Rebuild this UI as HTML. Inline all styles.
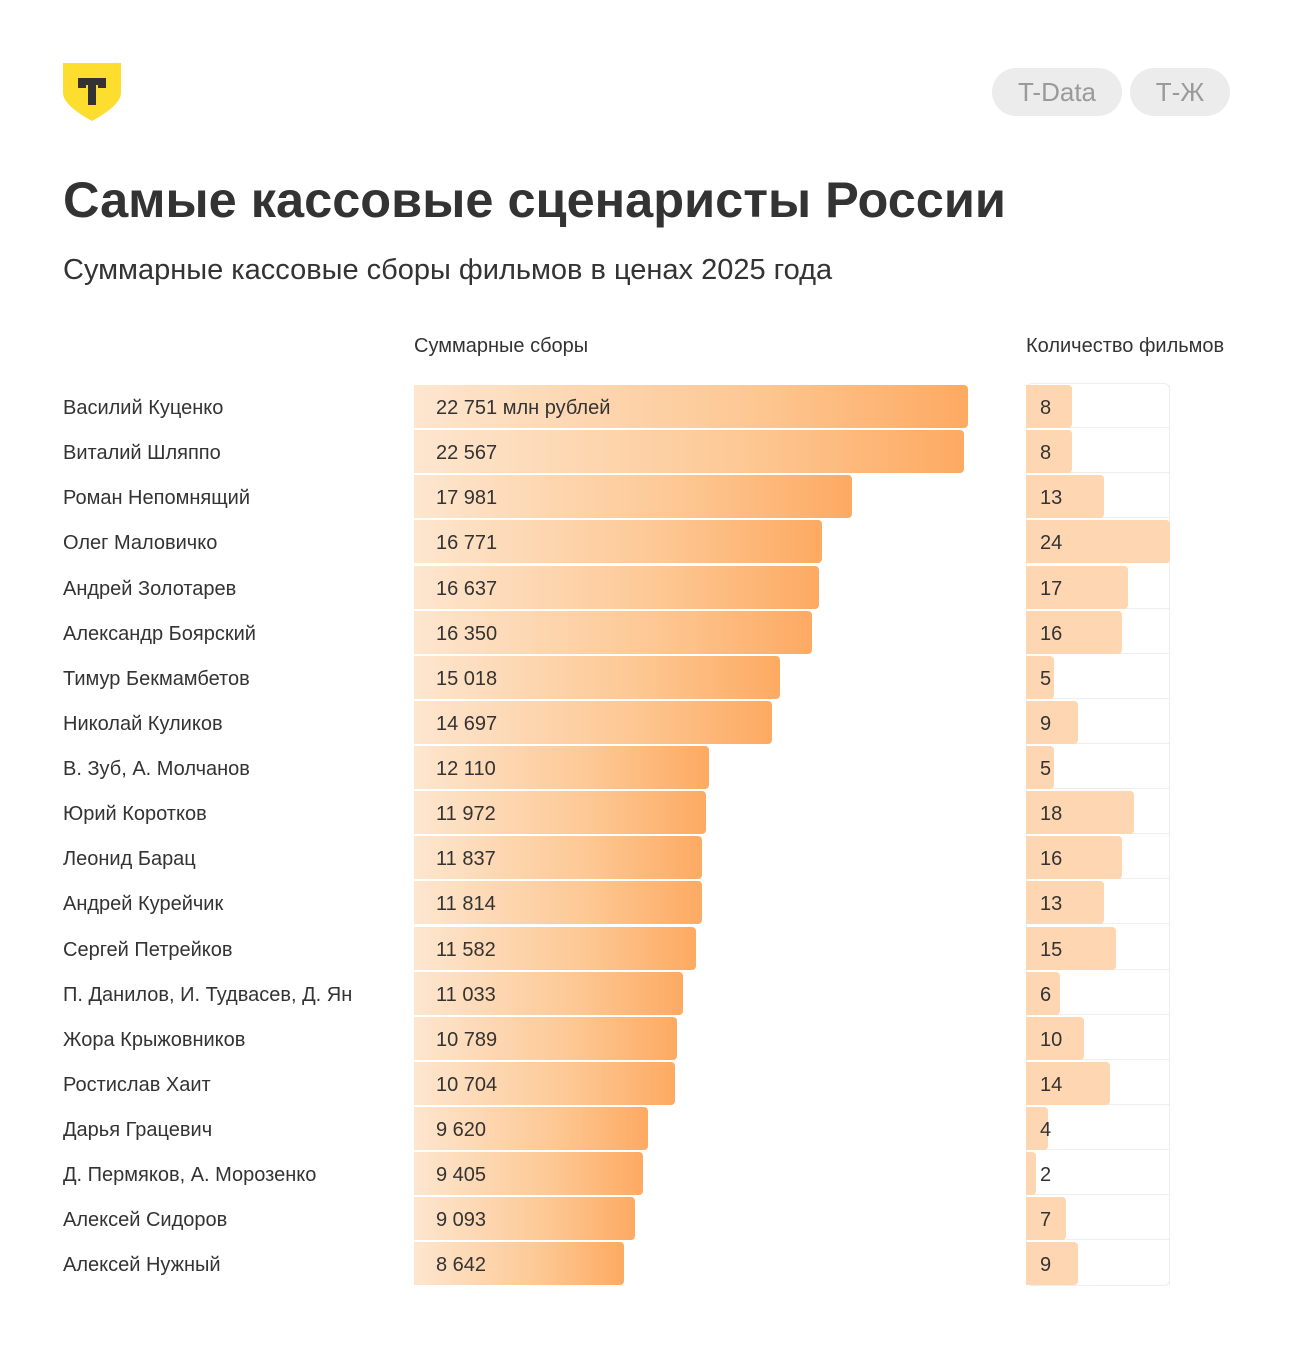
<!DOCTYPE html>
<html><head><meta charset="utf-8"><style>
body{margin:0;width:1294px;height:1349px;background:#fff;font-family:"Liberation Sans","DejaVu Sans",sans-serif;color:#333;position:relative;overflow:hidden}
.a{position:absolute}
.n{position:absolute;left:63px;font-size:20px;line-height:47px;color:#333}
.b{position:absolute;left:414px;height:43px;border-radius:0 4px 4px 0;background:linear-gradient(90deg,#fde6cf,#fdc894 60%,#fdaa62)}
.v{position:absolute;left:436px;font-size:20px;line-height:47px;color:#333}
.cb{position:absolute;left:1026px;width:144px;height:43px;border-right:1.5px solid #eee;border-bottom:1.5px solid #eee;box-sizing:border-box}
.c{position:absolute;left:1026px;height:43px;background:#fed6b1;border-radius:0 4px 4px 0}
.cv{position:absolute;left:1040px;font-size:20px;line-height:47px;color:#333}
.pill{position:absolute;top:68px;height:48px;border-radius:24px;background:#ececec;color:#9a9a9a;font-size:26px;line-height:48px;text-align:center}
</style></head><body>
<svg class="a" style="left:63px;top:63px" width="58" height="58" viewBox="0 0 58 58"><path d="M0 0H58V30Q58 42 29 58Q0 42 0 30Z" fill="#fddd2d"/><path d="M15 15H43V25H35V22H33V42H25V22H23V25H15Z" fill="#333"/></svg>
<div class="pill" style="left:992px;width:130px">T-Data</div>
<div class="pill" style="left:1130px;width:100px">Т-Ж</div>
<div class="a" style="left:63px;top:170px;font-size:50.5px;font-weight:bold;color:#333">Самые кассовые сценаристы России</div>
<div class="a" style="left:63px;top:254px;font-size:29px;color:#333">Суммарные кассовые сборы фильмов в ценах 2025 года</div>
<div class="a" style="left:414px;top:335px;font-size:20px;color:#333">Суммарные сборы</div>
<div class="a" style="left:1026px;top:335px;font-size:20px;color:#333">Количество фильмов</div>
<div class="a" style="left:1026px;top:383px;width:144px;height:903px;border:1.5px solid #eee;border-radius:6px;box-sizing:border-box"></div>

<div class="n" style="top:385px">Василий Куценко</div><div class="b" style="top:385px;width:554px"></div><div class="v" style="top:385px">22 751 млн рублей</div><div class="cb" style="top:385px"></div><div class="c" style="top:385px;width:46px"></div><div class="cv" style="top:385px">8</div>
<div class="n" style="top:430px">Виталий Шляппо</div><div class="b" style="top:430px;width:550px"></div><div class="v" style="top:430px">22 567</div><div class="cb" style="top:430px"></div><div class="c" style="top:430px;width:46px"></div><div class="cv" style="top:430px">8</div>
<div class="n" style="top:475px">Роман Непомнящий</div><div class="b" style="top:475px;width:438px"></div><div class="v" style="top:475px">17 981</div><div class="cb" style="top:475px"></div><div class="c" style="top:475px;width:78px"></div><div class="cv" style="top:475px">13</div>
<div class="n" style="top:520px">Олег Маловичко</div><div class="b" style="top:520px;width:408px"></div><div class="v" style="top:520px">16 771</div><div class="cb" style="top:520px"></div><div class="c" style="top:520px;width:144px"></div><div class="cv" style="top:520px">24</div>
<div class="n" style="top:566px">Андрей Золотарев</div><div class="b" style="top:566px;width:405px"></div><div class="v" style="top:566px">16 637</div><div class="cb" style="top:566px"></div><div class="c" style="top:566px;width:102px"></div><div class="cv" style="top:566px">17</div>
<div class="n" style="top:611px">Александр Боярский</div><div class="b" style="top:611px;width:398px"></div><div class="v" style="top:611px">16 350</div><div class="cb" style="top:611px"></div><div class="c" style="top:611px;width:96px"></div><div class="cv" style="top:611px">16</div>
<div class="n" style="top:656px">Тимур Бекмамбетов</div><div class="b" style="top:656px;width:366px"></div><div class="v" style="top:656px">15 018</div><div class="cb" style="top:656px"></div><div class="c" style="top:656px;width:28px"></div><div class="cv" style="top:656px">5</div>
<div class="n" style="top:701px">Николай Куликов</div><div class="b" style="top:701px;width:358px"></div><div class="v" style="top:701px">14 697</div><div class="cb" style="top:701px"></div><div class="c" style="top:701px;width:52px"></div><div class="cv" style="top:701px">9</div>
<div class="n" style="top:746px">В. Зуб, А. Молчанов</div><div class="b" style="top:746px;width:295px"></div><div class="v" style="top:746px">12 110</div><div class="cb" style="top:746px"></div><div class="c" style="top:746px;width:28px"></div><div class="cv" style="top:746px">5</div>
<div class="n" style="top:791px">Юрий Коротков</div><div class="b" style="top:791px;width:292px"></div><div class="v" style="top:791px">11 972</div><div class="cb" style="top:791px"></div><div class="c" style="top:791px;width:108px"></div><div class="cv" style="top:791px">18</div>
<div class="n" style="top:836px">Леонид Барац</div><div class="b" style="top:836px;width:288px"></div><div class="v" style="top:836px">11 837</div><div class="cb" style="top:836px"></div><div class="c" style="top:836px;width:96px"></div><div class="cv" style="top:836px">16</div>
<div class="n" style="top:881px">Андрей Курейчик</div><div class="b" style="top:881px;width:288px"></div><div class="v" style="top:881px">11 814</div><div class="cb" style="top:881px"></div><div class="c" style="top:881px;width:78px"></div><div class="cv" style="top:881px">13</div>
<div class="n" style="top:927px">Сергей Петрейков</div><div class="b" style="top:927px;width:282px"></div><div class="v" style="top:927px">11 582</div><div class="cb" style="top:927px"></div><div class="c" style="top:927px;width:90px"></div><div class="cv" style="top:927px">15</div>
<div class="n" style="top:972px">П. Данилов, И. Тудвасев, Д. Ян</div><div class="b" style="top:972px;width:269px"></div><div class="v" style="top:972px">11 033</div><div class="cb" style="top:972px"></div><div class="c" style="top:972px;width:34px"></div><div class="cv" style="top:972px">6</div>
<div class="n" style="top:1017px">Жора Крыжовников</div><div class="b" style="top:1017px;width:263px"></div><div class="v" style="top:1017px">10 789</div><div class="cb" style="top:1017px"></div><div class="c" style="top:1017px;width:58px"></div><div class="cv" style="top:1017px">10</div>
<div class="n" style="top:1062px">Ростислав Хаит</div><div class="b" style="top:1062px;width:261px"></div><div class="v" style="top:1062px">10 704</div><div class="cb" style="top:1062px"></div><div class="c" style="top:1062px;width:84px"></div><div class="cv" style="top:1062px">14</div>
<div class="n" style="top:1107px">Дарья Грацевич</div><div class="b" style="top:1107px;width:234px"></div><div class="v" style="top:1107px">9 620</div><div class="cb" style="top:1107px"></div><div class="c" style="top:1107px;width:22px"></div><div class="cv" style="top:1107px">4</div>
<div class="n" style="top:1152px">Д. Пермяков, А. Морозенко</div><div class="b" style="top:1152px;width:229px"></div><div class="v" style="top:1152px">9 405</div><div class="cb" style="top:1152px"></div><div class="c" style="top:1152px;width:10px"></div><div class="cv" style="top:1152px">2</div>
<div class="n" style="top:1197px">Алексей Сидоров</div><div class="b" style="top:1197px;width:221px"></div><div class="v" style="top:1197px">9 093</div><div class="cb" style="top:1197px"></div><div class="c" style="top:1197px;width:40px"></div><div class="cv" style="top:1197px">7</div>
<div class="n" style="top:1242px">Алексей Нужный</div><div class="b" style="top:1242px;width:210px"></div><div class="v" style="top:1242px">8 642</div><div class="cb" style="top:1242px;border-bottom:none"></div><div class="c" style="top:1242px;width:52px"></div><div class="cv" style="top:1242px">9</div>
</body></html>
